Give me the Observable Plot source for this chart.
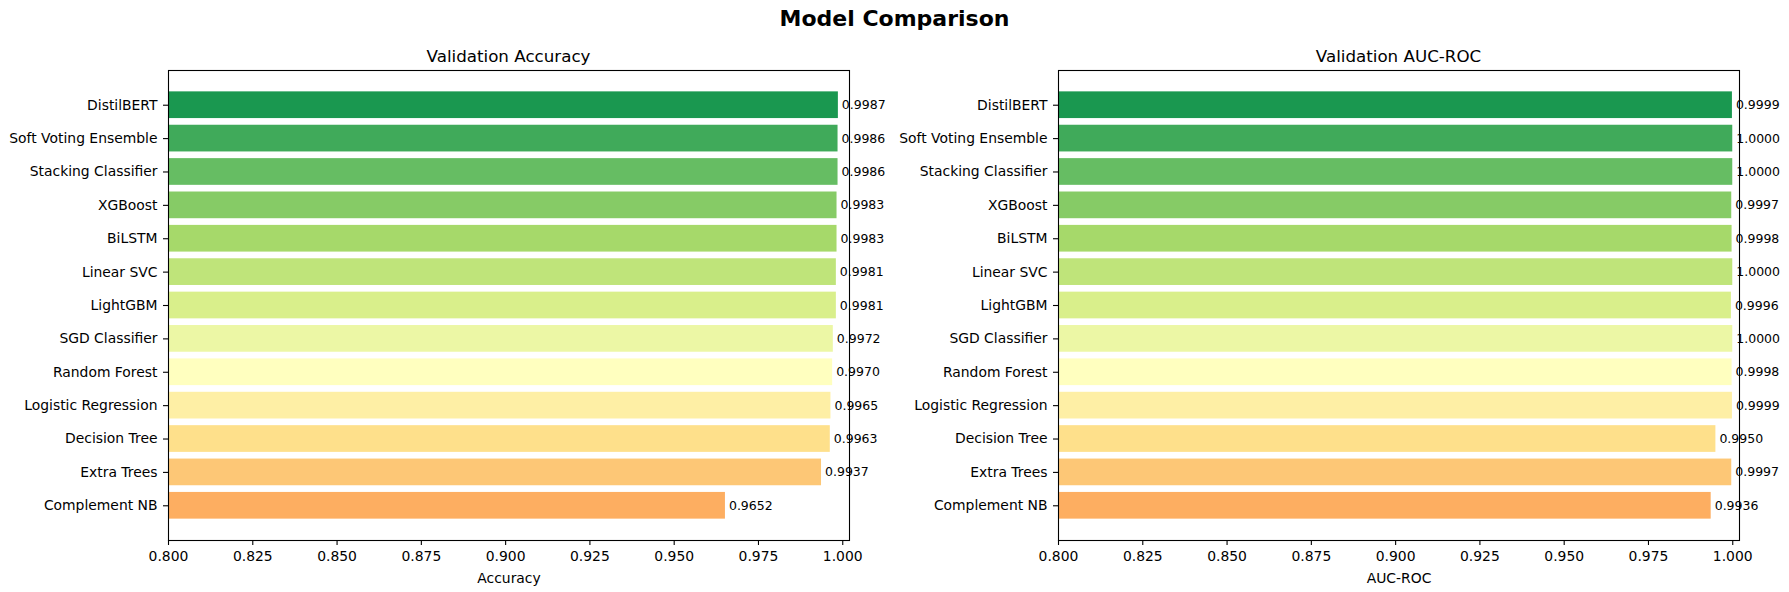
<!DOCTYPE html>
<html>
<head>
<meta charset="utf-8">
<script src="https://cdn.jsdelivr.net/npm/d3@7"></script>
<script src="https://cdn.jsdelivr.net/npm/@observablehq/plot@0.6"></script>
<style>
  html, body { margin: 0; padding: 0; background: #fff; }
  #wrap { position: relative; width: 1789px; height: 592px; font-family: "DejaVu Sans", sans-serif; color: #000; overflow: hidden; background: #fff; }
  .t { position: absolute; white-space: nowrap; line-height: 1; transform: translateX(-50%); z-index: 2; }
  .panel { position: absolute; top: 0; z-index: 1; }
</style>
</head>
<body>
<div id="wrap">
  <div class="panel" id="left" style="left:0px;"></div>
  <div class="panel" id="right" style="left:894px;"></div>
  <div class="t" style="left:894.5px; top:8px; font-size:22px; font-weight:bold;">Model Comparison</div>
  <div class="t" style="left:508.5px; top:48px; font-size:16.7px;">Validation Accuracy</div>
  <div class="t" style="left:1398.5px; top:48px; font-size:16.7px;">Validation AUC-ROC</div>
</div>
<script>
const models = ["DistilBERT", "Soft Voting Ensemble", "Stacking Classifier", "XGBoost", "BiLSTM", "Linear SVC", "LightGBM", "SGD Classifier", "Random Forest", "Logistic Regression", "Decision Tree", "Extra Trees", "Complement NB"];
const accuracy = [0.9987, 0.9986, 0.9986, 0.9983, 0.9983, 0.9981, 0.9981, 0.9972, 0.9970, 0.9965, 0.9963, 0.9937, 0.9652];
const aucRoc = [0.9999, 1.0000, 1.0000, 0.9997, 0.9998, 1.0000, 0.9996, 1.0000, 0.9998, 0.9999, 0.9950, 0.9997, 0.9936];
const barColors = ["#1a9850", "#40aa5a", "#66bd63", "#86cb66", "#a6d96a", "#bfe47a", "#d9ef8b", "#ecf7a5", "#ffffbf", "#feefa5", "#fee08b", "#fdc776", "#fdae61"];
const xTicks = [0.800, 0.825, 0.850, 0.875, 0.900, 0.925, 0.950, 0.975, 1.000];
const xLabels = ["Accuracy", "AUC-ROC"];

function panel(values, xLabel, width, marginLeft, marginRight) {
  const data = models.map((m, i) => ({model: m, value: values[i], color: barColors[i]}));
  return Plot.plot({
    width, height: 592,
    marginLeft, marginRight, marginTop: 70, marginBottom: 52,
    style: {fontFamily: "DejaVu Sans, sans-serif", fontSize: "13.9px", color: "#000", background: "transparent", overflow: "visible"},
    x: {domain: [0.8, 1.002]},
    y: {type: "band", domain: models, paddingInner: 0.2, paddingOuter: 0.64, align: 0.5, round: false},
    color: {type: "identity"},
    marks: [
      Plot.barX(data, {x: "value", y: "model", fill: "color", clip: true}),
      Plot.text(data, {x: "value", y: "model", text: d => d.value.toFixed(4), dx: 3.5, textAnchor: "start", fontSize: 12.5, fill: "#000"}),
      Plot.frame({stroke: "#000", strokeWidth: 1.1}),
      Plot.axisX({ticks: xTicks, tickFormat: d3.format(".3f"), tickSize: 5, tickPadding: 6, strokeWidth: 1.1, label: xLabel, labelAnchor: "center", labelArrow: "none", labelOffset: 42}),
      Plot.axisY({tickSize: 5, tickPadding: 6, strokeWidth: 1.1, label: null})
    ]
  });
}

document.getElementById("left").appendChild(panel(accuracy, xLabels[0], 894, 168, 45));
document.getElementById("right").appendChild(panel(aucRoc, xLabels[1], 895, 164, 50));
</script>
</body>
</html>
